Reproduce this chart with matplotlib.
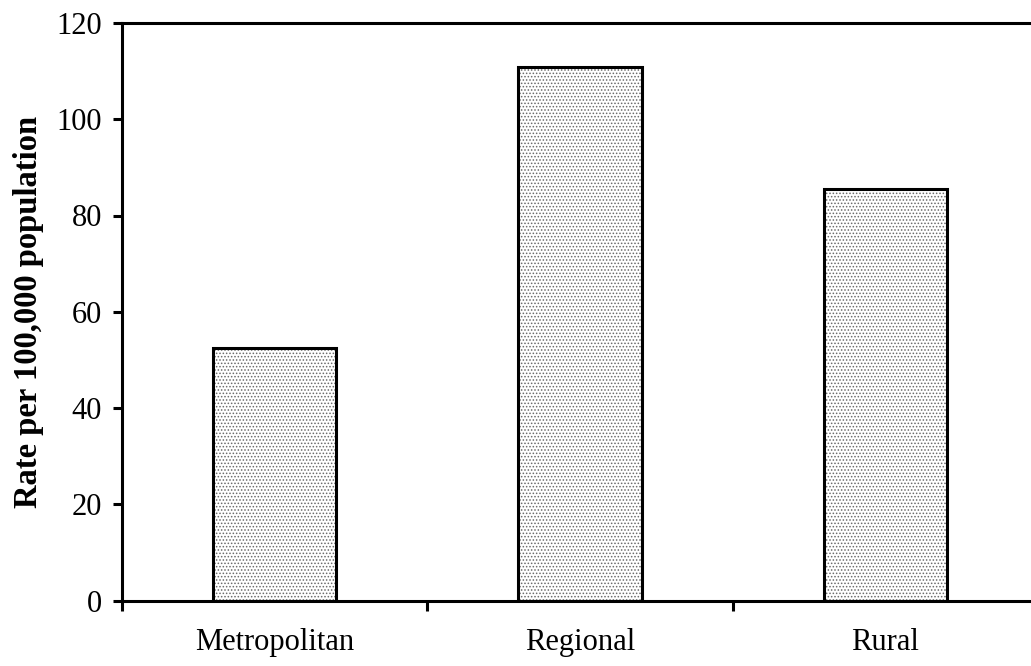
import matplotlib
matplotlib.use('Agg')
import matplotlib.pyplot as plt
import numpy as np

plt.rcParams['font.family'] = ['Liberation Serif', 'DejaVu Serif']
plt.rcParams['hatch.linewidth'] = 0.7

categories = ['Metropolitan', 'Regional', 'Rural']
rates = [52.5, 110.8, 85.6]
yticks = [0, 20, 40, 60, 80, 100, 120]

fig = plt.figure(figsize=(10.31, 6.66), dpi=100)
ax = fig.add_axes([122 / 1031, 65.5 / 666, 916 / 1031, 577.5 / 666])

x = np.arange(len(categories))
# dotted fill first, then the black outline on top
ax.bar(x, rates, width=0.404, color='white', edgecolor='#6a6a6a',
       hatch='.....', linewidth=0, zorder=2)
ax.bar(x, rates, width=0.404, fill=False, edgecolor='black',
       linewidth=2.2, zorder=3)

ax.set_xlim(-0.5, 2.5)
ax.set_ylim(0, 120)
ax.set_yticks(yticks)
ax.set_yticklabels([str(v) for v in yticks])

# ticks sit between the categories, labels in the middle
ax.set_xticks([-0.5, 0.5, 1.5, 2.5])
ax.set_xticklabels([])
ax.set_xticks(x, minor=True)
ax.set_xticklabels(categories, minor=True)
ax.tick_params(axis='x', which='minor', length=0, pad=20, labelsize=22)
ax.tick_params(axis='x', which='major', length=7, width=2.2, direction='out')
ax.tick_params(axis='y', length=6.5, width=2.2, direction='out', pad=8, labelsize=22)

for s in ['left', 'bottom', 'top']:
    ax.spines[s].set_linewidth(2.2)
ax.spines['right'].set_visible(False)

ax.set_ylabel('Rate per 100,000 population', fontsize=23.5, fontweight='bold', labelpad=9)

fig.savefig('out.png', dpi=100)
